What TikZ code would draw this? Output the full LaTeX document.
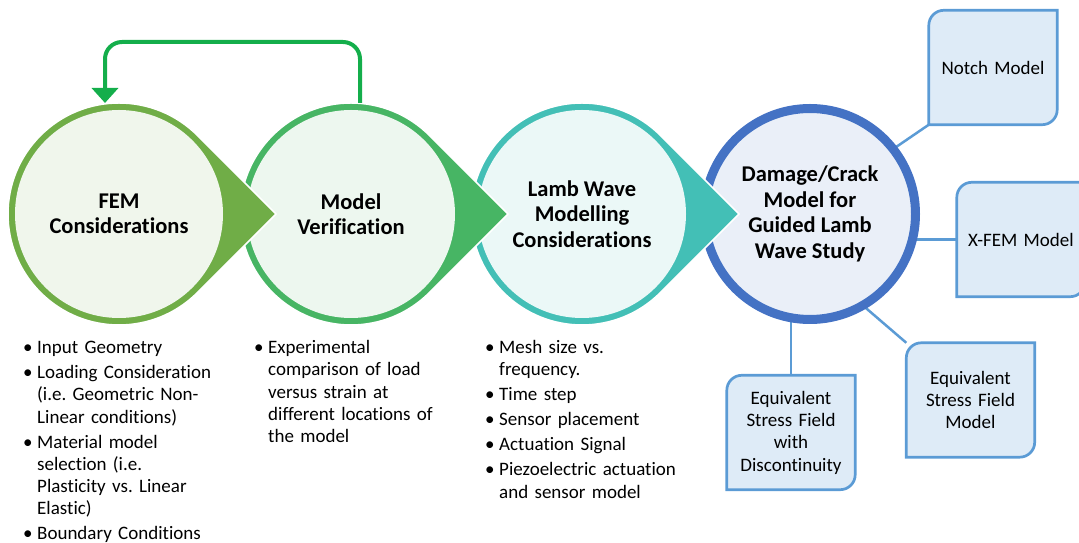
\documentclass[tikz,border=0pt]{standalone}
\usepackage{fontspec}
\setmainfont{Carlito}[RawFeature=-liga]
\usepackage{enumitem}
\usetikzlibrary{calc, arrows.meta}
\pgfdeclarelayer{back}
\pgfsetlayers{back,main}
\definecolor{femring}{HTML}{70AD47}
\definecolor{femfill}{HTML}{F0F6EC}
\definecolor{verring}{HTML}{47B564}
\definecolor{verfill}{HTML}{EDF7EF}
\definecolor{lambring}{HTML}{43BFB6}
\definecolor{lambfill}{HTML}{EBF8F7}
\definecolor{dmgring}{HTML}{4472C4}
\definecolor{dmgfill}{HTML}{EAEFF8}
\definecolor{backarrow}{HTML}{14AE4B}
\definecolor{tabline}{HTML}{5B9BD5}
\definecolor{tabfill}{HTML}{DEEBF7}

\begin{document}
\begin{tikzpicture}[x=1pt, y=1pt,
        stage/.style={circle, minimum size=222pt, inner sep=0pt, outer sep=0pt, align=center,
            font=\fontsize{22.5}{25.5}\selectfont\bfseries},
        tab/.style={minimum width=128pt, minimum height=114pt, inner sep=0pt, text width=124pt,
            align=center, font=\fontsize{19}{22.3}\selectfont},
        notes/.style={anchor=north west, inner sep=0pt, text width=230pt,
            font=\fontsize{19}{22.3}\selectfont\frenchspacing},
        link/.style={draw=tabline, line width=2.5pt},
        tabshape/.style={draw=tabline, fill=tabfill, line width=2.7pt,
            insert path={(#1.south west) -- ([yshift=-15pt]#1.north west)
                arc[start angle=180, end angle=90, radius=15pt] -- (#1.north east)
                -- ([yshift=15pt]#1.south east) arc[start angle=0, end angle=-90, radius=15pt] -- cycle}}]
            \useasboundingbox (0,0) rectangle (1079,543);
            \coordinate (c1) at (119,329);
            \coordinate (c2) at (351,329);
            \coordinate (c3) at (582,329);
            \node[stage, draw=dmgring, fill=dmgfill, line width=9pt, minimum size=211pt] (damage) at (810,329)
                {Damage/Crack\\Model for\\Guided Lamb\\Wave Study};
            \fill[lambring, draw=white, line width=1.5pt] ($(c3)+(157,0)$) -- ($(c3)+(45:111)$)
                arc[start angle=45, end angle=315, radius=111pt] -- cycle;
            \fill[lambfill] (c3) circle[radius=104pt];
            \fill[verring, draw=white, line width=1.5pt] ($(c2)+(157,0)$) -- ($(c2)+(45:111)$)
                arc[start angle=45, end angle=315, radius=111pt] -- cycle;
            \fill[verfill] (c2) circle[radius=104pt];
            \fill[femring, draw=white, line width=1.5pt] ($(c1)+(157,0)$) -- ($(c1)+(45:111)$)
                arc[start angle=45, end angle=315, radius=111pt] -- cycle;
            \fill[femfill] (c1) circle[radius=104pt];
            \node[stage] (fem) at (c1) {FEM\\Considerations};
            \node[stage] (verif) at (c2) {Model\\Verification};
            \node[stage] (lamb) at (c3) {Lamb Wave\\Modelling\\Considerations};
            \draw[backarrow, line width=4pt, rounded corners=17pt, -{Triangle[width=26pt, length=15pt]}]
                ([xshift=9pt]verif.north) -- ++(0,61) -| ([xshift=-14pt]fem.north);
            \node[tab] (notch) at (993,475.5) {Notch Model};
            \node[tab] (xfem) at (1021,303.5) {X-FEM Model};
            \node[tab] (esfm) at (970.5,143) {Equivalent\\Stress Field\\Model};
            \node[tab] (esfd) at (791,110.5) {Equivalent\\Stress Field\\with\\Discontinuity};
            \node[notes] (femnotes) at (26,212) {\begin{itemize}[leftmargin=11pt, labelsep=4.5pt, itemsep=2.7pt,
                    topsep=0pt, parsep=0pt, partopsep=0pt, label=\textbullet]
                \item Input Geometry
                \item Loading Consideration\newline(i.e. Geometric Non-\newline Linear conditions)
                \item Material model\newline selection (i.e.\newline Plasticity vs. Linear\newline Elastic)
                \item Boundary Conditions
                \end{itemize}};
            \node[notes] (vernotes) at (257,212) {\begin{itemize}[leftmargin=11pt, labelsep=4.5pt, itemsep=2.7pt,
                    topsep=0pt, parsep=0pt, partopsep=0pt, label=\textbullet]
                \item Experimental\newline comparison of load\newline versus strain at\newline different locations of\newline the model
                \end{itemize}};
            \node[notes] (lambnotes) at (488,212) {\begin{itemize}[leftmargin=11pt, labelsep=4.5pt, itemsep=2.7pt,
                    topsep=0pt, parsep=0pt, partopsep=0pt, label=\textbullet]
                \item Mesh size vs.\newline frequency.
                \item Time step
                \item Sensor placement
                \item Actuation Signal
                \item Piezoelectric actuation\newline and sensor model
                \end{itemize}};
            \begin{pgfonlayer}{back}
                \draw[link] (damage.38) -- (notch.south west);
                \draw[link] (xfem.west) -- (xfem.west -| damage.center);
                \draw[link] (damage.-60) -- (esfm.north west);
                \draw[link] (esfd.north) -- (esfd.north |- damage.center);
                \draw[tabshape=notch];
                \draw[tabshape=xfem];
                \draw[tabshape=esfm];
                \draw[tabshape=esfd];
            \end{pgfonlayer}
        \end{tikzpicture}
\end{document}
